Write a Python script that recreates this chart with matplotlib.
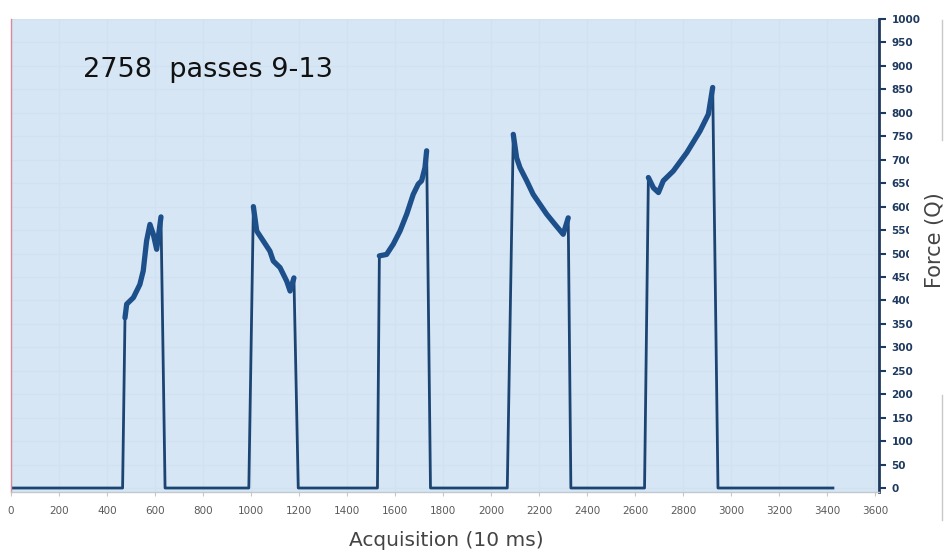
import numpy as np
import matplotlib
matplotlib.use('Agg')
import matplotlib.pyplot as plt
from matplotlib.patches import Rectangle
from matplotlib.lines import Line2D

# force trace: acquisition index (10 ms) vs force (Q)
acq = [0, 465, 475, 482, 510, 537, 551, 565, 579, 593, 607, 625, 642,
       991, 1010, 1024, 1051, 1079, 1093, 1121, 1149, 1163, 1179, 1197,
       1527, 1535, 1565, 1593, 1621, 1649, 1676, 1697, 1711, 1725, 1732, 1748,
       2068, 2093, 2107, 2121, 2149, 2176, 2204, 2232, 2267, 2301, 2322, 2333,
       2640, 2656, 2677, 2698, 2718, 2760, 2816, 2871, 2906, 2924, 2946,
       3425]
force = [0, 0, 363, 392, 406, 434, 463, 527, 562, 541, 509, 578, 0,
         0, 600, 548, 527, 505, 484, 470, 441, 420, 448, 0,
         0, 495, 498, 520, 548, 584, 626, 648, 655, 683, 719, 0,
         0, 754, 704, 683, 655, 626, 605, 584, 562, 541, 576, 0,
         0, 662, 640, 630, 655, 676, 715, 761, 797, 854, 0,
         0]

xticks = list(range(0, 3601, 200))
yticks = list(range(0, 1001, 50))

acq = np.array(acq)
force = np.array(force, dtype=float)
tops = np.where(force > 0, force, np.nan)

fig = plt.figure(figsize=(9.48, 5.54), dpi=100)
ax = fig.add_axes([11 / 948, 1 - 492 / 554, 868 / 948, 473 / 554])
ax.set_facecolor('#d6e6f4')

ax.plot(acq, force, c='#1b4473', lw=2, solid_joinstyle='round')
ax.plot(acq, tops, c='#1d4f8a', lw=3.8, solid_capstyle='round', solid_joinstyle='round')

ax.set_xlim(0, 3617)
ax.set_ylim(-8.5, 1000)
ax.set_xticks(xticks)
ax.set_yticks(yticks)
ax.grid(True, color='#d0e1f1', lw=0.8)
ax.set_axisbelow(True)

ax.yaxis.tick_right()
ax.spines['top'].set_visible(False)
ax.spines['left'].set_color('#d98a9a')
ax.spines['left'].set_linewidth(1)
ax.spines['bottom'].set_color('#c4c8cc')
ax.spines['bottom'].set_linewidth(1)
ax.spines['right'].set_color('#1f3a5f')
ax.spines['right'].set_linewidth(2)

ax.tick_params(axis='y', right=True, left=False, direction='out', length=5,
               width=1.5, color='#1f3a5f', labelcolor='#1f3a5f',
               labelsize=7.5, pad=4)
for t in ax.get_yticklabels():
    t.set_fontweight('bold')
ax.tick_params(axis='x', direction='out', length=3, width=0.8,
               color='#c4c8cc', labelcolor='#5a5a5a', labelsize=7.5, pad=7)

fig.text(83 / 948, 1 - 70 / 554, '2758  passes 9-13', fontsize=19.5,
         color='#111111', va='center', ha='left')
fig.text(446 / 948, 1 - 540 / 554, 'Acquisition (10 ms)', fontsize=14.5,
         color='#444444', ha='center', va='center')

# frame line at the right edge, broken where the axis title sits
fig.add_artist(Line2D([942 / 948, 942 / 948], [1 - 140 / 554, 1 - 20 / 554],
                      transform=fig.transFigure, color='#c8c8c8', lw=1, zorder=1))
fig.add_artist(Line2D([942 / 948, 942 / 948], [1 - 520 / 554, 1 - 395 / 554],
                      transform=fig.transFigure, color='#c8c8c8', lw=1, zorder=1))
# white box of the axis title clips the tick labels 700..400
fig.add_artist(Rectangle((909 / 948, 1 - 310 / 554), 39 / 948, 168 / 554,
                         transform=fig.transFigure, facecolor='white',
                         edgecolor='none', zorder=2))
fig.text(935 / 948, 1 - 240 / 554, 'Force (Q)', fontsize=15, rotation=90,
         color='#444444', ha='center', va='center', zorder=3)

fig.savefig('out.png', dpi=100)
